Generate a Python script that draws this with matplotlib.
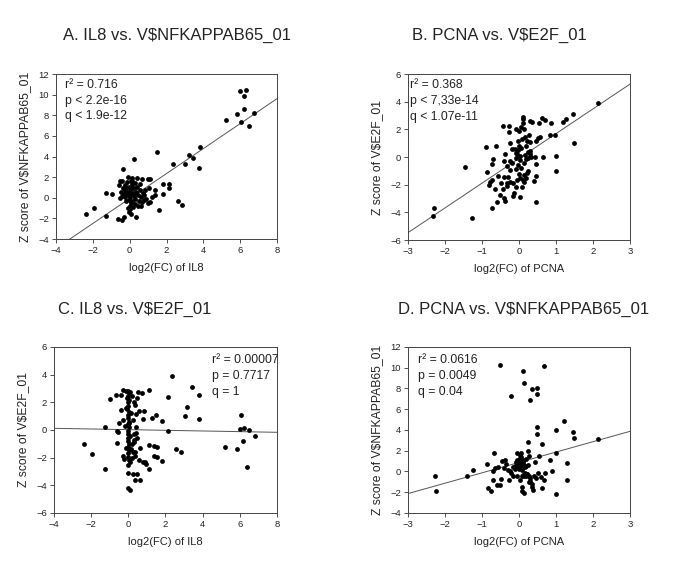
import matplotlib
matplotlib.use("Agg")
import matplotlib.pyplot as plt
import numpy as np

plt.rcParams['font.family'] = ['Liberation Sans', 'DejaVu Sans']

# ---- Panel A: log2(FC) IL8 vs Z score NFKAPPAB65 ----
il8_a = [5.99, 6.33, 6.19, 6.21, 5.81, 6.77, 5.21, 6.05, 6.48,
         3.80, 1.50, 3.20, 3.44, 3.02, 2.33, 3.78, 0.25, -0.36,
         1.79, 2.12, 2.12, 1.79, 2.61, 2.84, 1.57,
         -2.39, -1.92, -1.27, -1.27, -0.98, -0.63, -0.42, -0.33, 0.36,
         -0.52, -0.58, -0.40, -0.09, 0.11, 0.42, 0.67, 0.98, 1.10,
         1.07, 0.85, 1.39, 1.39, 1.19, 1.10, 1.01, -0.52, -0.33,
         -0.25, -0.20, -0.15, -0.10, -0.05, 0.00, 0.05, 0.00, -0.05, 0.05,
         0.00, 0.02, -0.02, 0.05, 0.10, 0.15, 0.20, 0.25, 0.30, 0.35,
         0.40, 0.45, 0.50, 0.55, 0.60, 0.65, 0.70, 0.75, 0.80, 0.90,
         -0.30, -0.35, -0.40, -0.20, 0.10, 0.20, 0.30, 0.15, 0.30, -0.15,
         0.45, 0.55, -0.10, 0.25, 0.60, -0.25, 0.05, -0.45]
nfkb_a = [10.32, 10.45, 9.84, 8.64, 8.12, 8.19, 7.57, 7.38, 6.96,
          4.89, 4.40, 4.11, 3.88, 3.30, 3.27, 2.91, 3.72, 2.75,
          1.29, 1.36, 0.97, 0.32, -0.29, -0.68, -1.20,
          -1.59, -1.00, -1.75, 0.45, 0.36, -2.04, -2.20, -1.91, -1.84,
          1.65, 1.26, 1.62, 1.97, 1.88, 1.91, 1.78, 1.80, 1.80,
          0.94, 0.74, 0.71, 0.23, 0.10, -0.39, -0.52, 0.00, 0.68,
          1.20, 0.90, 0.60, 0.30, 1.00, 0.70, 0.40, 0.10, -0.20, -0.50,
          -0.80, -1.10, -1.40, -1.60, 1.30, 0.90, 0.50, 0.20, -0.10, 0.60,
          1.00, 0.30, -0.30, 0.80, 0.10, -0.40, 0.50, -0.20, 0.30, -0.10,
          0.40, 0.90, 0.20, -0.30, -0.30, -0.90, -0.60, 1.60, 1.40, 1.50,
          -0.80, 1.30, -1.00, 0.95, -0.80, 0.10, 1.60, 0.55]
fit_a = (1.21, -0.07)

# ---- Panel B: log2(FC) PCNA vs Z score E2F ----
pcna_b = [2.13, -2.31, -2.32, -1.28, -1.45, -0.90, -0.86, -0.73, -0.69, -0.63,
          -0.77, -0.81, -0.73, -0.66, -0.57, -0.74, -0.60, -0.52, -0.43, -0.40,
          -0.38, -0.48, -0.41, -0.43, -0.28, -0.28, -0.24, -0.20, -0.38, -0.40,
          -0.32, -0.23, -0.24, -0.29, -0.32, -0.33, -0.23, -0.16, -0.13, -0.15,
          -0.08, -0.09, -0.04, -0.05, -0.07, -0.01, -0.02, 0.00, 0.05, 0.04,
          0.03, -0.03, 0.05, -0.07, -0.01, 0.04, -0.05, 0.11, 0.08, -0.07,
          0.02, 0.11, 0.11, 0.12, 0.05, 0.13, 0.17, 0.21, 0.19, 0.23,
          0.17, 0.19, 0.14, 0.21, 0.14, 0.19, 0.13, 0.29, 0.34, 0.26,
          0.29, 0.31, 0.29, 0.32, 0.23, 0.40, 0.54, 0.62, 0.69, 0.46,
          0.51, 0.58, 0.44, 0.45, 0.46, 0.47, 0.86, 0.85, 0.97, 0.99,
          1.00, 1.20, 1.28, 1.45, 1.49, 0.64, -0.12, 0.08, 0.25, -0.18]
e2f_b = [3.88, -3.66, -4.27, -4.43, -0.75, 0.70, -1.08, -0.53, -0.17, 0.82,
         -1.83, -2.02, -1.66, -2.34, -1.35, -3.71, -3.25, -2.75, -2.34, -2.94,
         -3.18, -1.88, -1.47, 2.22, 2.22, 1.83, 1.04, 0.55, 0.24, -0.29,
         -0.65, -0.27, -0.94, -1.47, -1.90, -2.10, -1.83, -1.90, -2.63, -2.80,
         -0.10, 0.31, 0.53, 0.19, 2.05, 1.88, 1.16, 0.77, 0.67, 0.07,
         -0.24, -0.60, -0.80, -0.84, -1.25, -1.49, -1.66, -1.66, -2.14, -2.19,
         -2.87, 2.89, 2.72, 2.43, 2.14, 2.00, 1.45, 1.16, 0.77, 0.36,
         0.14, -0.17, -0.46, -1.16, -1.30, -1.49, -1.81, 2.60, 2.53, 1.57,
         1.06, 0.41, 0.22, 0.02, -0.07, -1.76, 2.48, 2.80, 2.67, 1.16,
         1.35, 1.47, 0.02, -0.48, -1.37, -3.25, 2.43, 1.61, 1.61, 0.10,
         -1.01, 2.51, 2.77, 3.11, 0.99, 0.00, 0.60, 1.30, -1.00, -0.40]
fit_b = (1.79, -0.10)

# ---- Panel C: log2(FC) IL8 vs Z score E2F ----
il8_c = [2.36, 3.44, 3.81, 2.12, 3.18, 3.04, 3.79, 2.12, 2.59, 2.84,
         5.20, 5.83, 6.04, 5.99, 6.24, 6.19, 6.37, 6.49, 6.80,
         -2.39, -1.94, -1.28, -1.26, -0.99, -0.65, -0.38, -0.63, -0.56, -0.63,
         -0.50, -0.38, -0.29, -0.31, -0.23, -0.27, -0.14,
         0.00, 0.00, 0.07, 0.27, 0.49, 0.38, 0.63,
         0.52, 0.72, 1.10, 0.85, 0.81, 0.56, 0.43, 1.47, 1.26, 1.82,
         0.56, 0.79, 0.90, 0.97, 1.12, 0.65, 1.10, 1.38, 1.55, 1.40,
         1.56, 1.80, 0.38, 0.27, 0.45, 0.29, 0.40,
         -0.03, 0.02, -0.04, 0.03, -0.02, 0.01, -0.05, 0.04, 0.00, -0.03,
         0.02, -0.01, 0.03, -0.04, 0.01, 0.00, -0.02, 0.04, -0.03, 0.02,
         0.00, -0.01, 0.03, 0.01,
         0.20, 0.30, 0.15, 0.25, 0.10, 0.20, 0.15, 0.30, -0.15, -0.20,
         -0.10, 0.35, 0.45, 0.05, 0.10, -0.05, 0.30, 0.40, 0.35, 0.20, 0.10]
e2f_c = [3.93, 3.13, 2.51, 2.36, 1.66, 1.04, 0.80, -0.07, -1.40, -1.57,
         -1.25, -1.37, 1.06, 0.07, 0.17, -0.77, -2.65, 0.02, -0.43,
         -1.04, -1.73, -2.82, 0.22, 2.27, 2.53, 2.53, -0.07, -0.14, -0.92,
         0.48, 1.45, 0.75, -1.88, -2.07, 2.92, 2.80,
         -3.11, -4.19, -4.34, -3.18, -3.18, -3.59, -3.59,
         2.72, 2.67, 2.89, 1.40, 0.77, 1.40, 1.16, 1.08, 0.87, 0.63,
         -2.19, -2.31, -2.34, -2.43, -2.82, -1.28, -1.11, -1.16, -1.20, -1.86,
         -1.98, -2.22, -1.57, -1.61, -0.58, -0.70, -0.22,
         2.85, 2.70, 2.45, 2.20, 2.00, 1.75, 1.50, 1.30, 1.10, 0.90,
         0.60, 0.40, 0.20, -0.05, -0.30, -0.55, -0.80, -1.00, -1.20, -1.45,
         -1.70, -1.95, -2.20, -2.50,
         2.45, 2.00, 1.20, 0.70, -0.40, -1.00, -1.40, -0.90, 1.60, 0.30,
         -1.30, 1.80, 2.30, 0.50, 2.75, 2.30, -0.30, 0.20, -1.90, -2.00, -2.30]
fit_c = (-0.024, 0.024)

# ---- Panel D: log2(FC) PCNA vs Z score NFKAPPAB65 ----
pcna_d = [-0.50, 0.10, 0.67, 0.14, 0.34, 0.49, 0.48, -0.22, 0.30,
          0.48, 0.50, 1.21, 0.99, 1.45, 1.50, 2.13, 0.62, 0.23, 1.00,
          -2.28, -2.25, -1.41, -1.24, -0.86, -0.83, -0.75, -0.68, -0.70, -0.70,
          -0.59, -0.48, -0.52, -0.64, -0.56, -0.46, -0.39, -0.35, -0.30, -0.28,
          -0.21, -0.16, -0.12, -0.05, -0.05, 0.05, 0.02, -0.03, 0.10, 0.11,
          0.04, 0.07, 0.03, -0.05, 0.14, 0.09, 0.14, 0.09, 0.23, 0.28,
          0.21, 0.26, 0.31, 0.27, 0.34, 0.37, 0.40, 0.42, 0.55, 0.62,
          0.67, 0.71, 0.83, 0.89, 1.01, 1.30, 1.30,
          -0.02, 0.00, 0.03, 0.06, 0.08, -0.08, 0.12, 0.15, 0.18, 0.05,
          -0.10, 0.00, 0.08, 0.16, 0.20, 0.12, -0.05, 0.04, 0.10, 0.22,
          -0.15, -0.25, 0.30, 0.35, 0.45, 0.52, 0.60, -0.40, 0.18, 0.25]
nfkb_d = [10.26, 9.68, 10.16, 8.52, 7.94, 8.04, 7.46, 7.27, 6.88,
          4.31, 3.60, 4.82, 3.99, 3.79, 3.22, 3.15, 2.67, 2.83, 1.77,
          -0.39, -1.90, -0.39, 0.16, 0.71, -1.61, -1.90, 1.74, 0.00, -0.80,
          -1.29, -0.74, -1.29, 0.32, 0.39, 1.03, 1.13, 0.74, 0.16, -0.80,
          -0.10, -0.42, 0.51, 1.13, 1.77, 1.77, 1.29, 0.74, 1.13, 0.42,
          0.87, -0.48, -0.80, -0.48, -0.48, -1.45, -2.09, -1.90, 1.93, 1.45,
          -0.23, -0.48, -0.61, -1.06, -1.45, -1.77, -0.48, 0.90, 1.45, -1.61,
          -0.80, -0.16, 1.13, 0.06, -2.19, 0.80, -0.80,
          0.50, 0.80, 1.00, 0.60, 0.30, 0.90, 0.70, 0.40, 1.20, 1.40,
          0.20, 0.20, 0.10, -0.10, 0.50, -0.30, 0.60, 1.60, 0.90, -0.20,
          0.40, 0.00, -0.90, -1.20, -0.60, -0.10, -0.50, 0.30, -0.40, 0.60]
fit_d = (1.00, 0.87)


def draw_panel(ax, x, y, fit, xlim, ylim, yticks, xlabel, ylabel, stats, stats_x, stats_y):
    ax.scatter(x, y, s=12, c='black', linewidths=0, zorder=3)
    xs = np.array(xlim, dtype=float)
    ax.plot(xs, fit[0] * xs + fit[1], color='#555555', lw=0.7, zorder=2)
    ax.set_xlim(xlim)
    ax.set_ylim(ylim)
    ax.set_xticks(np.arange(xlim[0], xlim[1] + 1, 2 if xlim[1] - xlim[0] > 6 else 1))
    ax.set_yticks(yticks)
    ax.tick_params(direction='out', length=3, width=0.6, labelsize=6.8, pad=2,
                   colors='#333333', labelcolor='#222222')
    for sp in ax.spines.values():
        sp.set_linewidth(0.7)
        sp.set_color('#444444')
    ax.set_xlabel(xlabel, fontsize=8, labelpad=6, color='#222222')
    ax.set_ylabel(ylabel, fontsize=8.7, labelpad=5, color='#222222')
    for i, s in enumerate(stats):
        ax.text(stats_x, stats_y - i * 0.095, s, transform=ax.transAxes,
                fontsize=8.8, va='center', ha='left', color='#222222')


fig = plt.figure(figsize=(6.85, 5.87), dpi=100)

ax_a = fig.add_axes([0.0818, 0.5928, 0.3226, 0.2811])
draw_panel(ax_a, il8_a, nfkb_a, fit_a, (-4, 8), (-4, 12), np.arange(-4, 13, 2),
           'log2(FC) of IL8', 'Z score of V$NFKAPPAB65_01',
           ['r² = 0.716', 'p < 2.2e-16', 'q < 1.9e-12'], 0.04, 0.933)

ax_b = fig.add_axes([0.5956, 0.5911, 0.3241, 0.2828])
draw_panel(ax_b, pcna_b, e2f_b, fit_b, (-3, 3), (-6, 6), np.arange(-6, 7, 2),
           'log2(FC) of PCNA', 'Z score of V$E2F_01',
           ['r² = 0.368', 'p < 7,33e-14', 'q < 1.07e-11'], 0.01, 0.933)

ax_c = fig.add_axes([0.0788, 0.1261, 0.3255, 0.2828])
draw_panel(ax_c, il8_c, e2f_c, fit_c, (-4, 8), (-6, 6), np.arange(-6, 7, 2),
           'log2(FC) of IL8', 'Z score of V$E2F_01',
           ['r² = 0.00007', 'p = 0.7717', 'q = 1'], 0.71, 0.92)

ax_d = fig.add_axes([0.5956, 0.1261, 0.3241, 0.2828])
draw_panel(ax_d, pcna_d, nfkb_d, fit_d, (-3, 3), (-4, 12), np.arange(-4, 13, 2),
           'log2(FC) of PCNA', 'Z score of V$NFKAPPAB65_01',
           ['r² = 0.0616', 'p = 0.0049', 'q = 0.04'], 0.045, 0.92)

# panel titles
fig.text(177 / 685, 1 - 35 / 587, 'A. IL8 vs. V$NFKAPPAB65_01', fontsize=12, ha='center', va='center', color='#222222')
fig.text(499 / 685, 1 - 35 / 587, 'B. PCNA vs. V$E2F_01', fontsize=12, ha='center', va='center', color='#222222')
fig.text(135 / 685, 1 - 309 / 587, 'C. IL8 vs. V$E2F_01', fontsize=12, ha='center', va='center', color='#222222')
fig.text(524 / 685, 1 - 309 / 587, 'D. PCNA vs. V$NFKAPPAB65_01', fontsize=12, ha='center', va='center', color='#222222')

fig.savefig('out.png', dpi=100)
